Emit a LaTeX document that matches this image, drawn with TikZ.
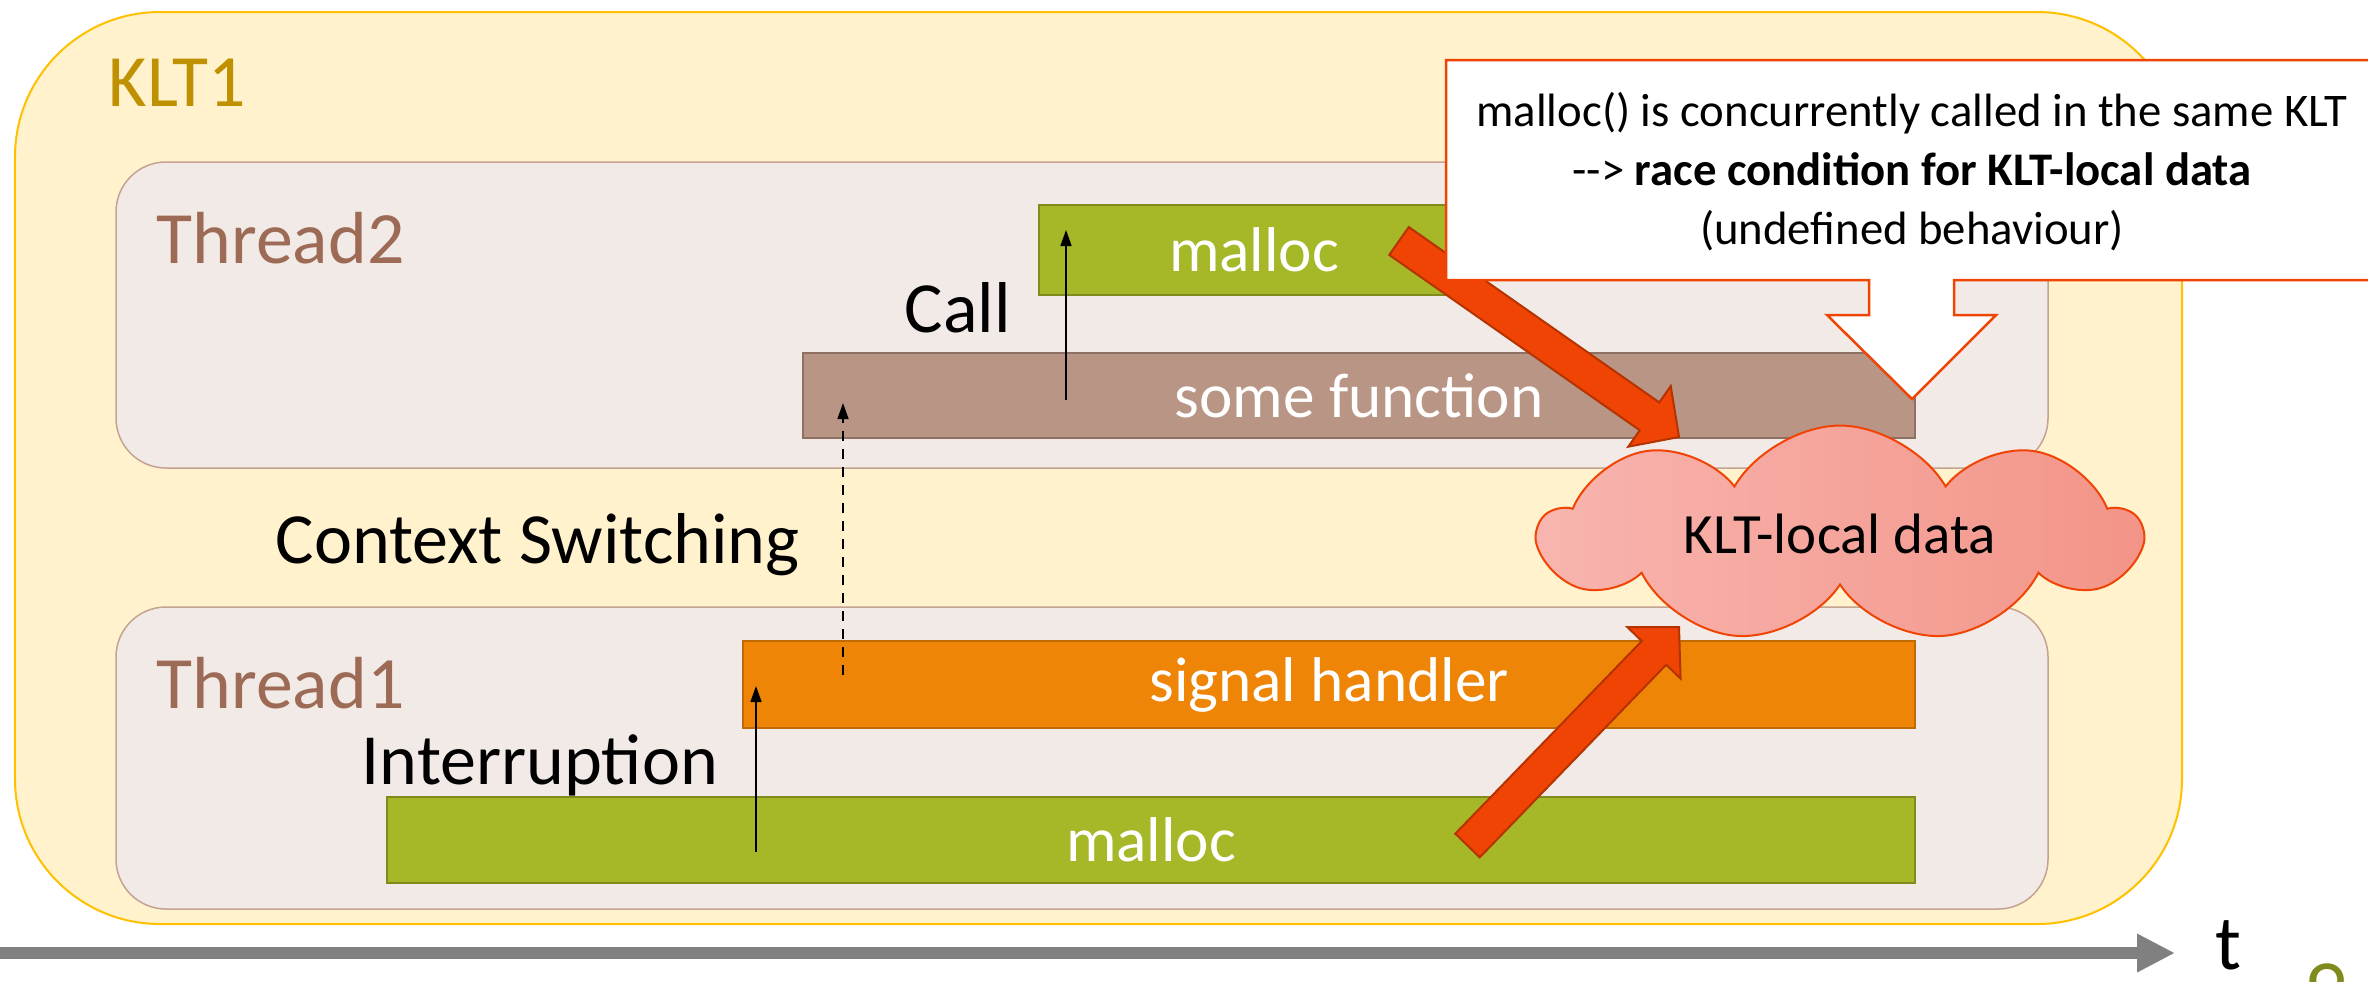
\documentclass[tikz,border=0pt]{standalone}
\usepackage{fontspec}
\setmainfont{Carlito}
\usetikzlibrary{arrows.meta,calc,positioning,shapes.symbols}

\definecolor{kltfill}{HTML}{FFF2CC}
\definecolor{kltline}{HTML}{FFC000}
\definecolor{klttext}{HTML}{BF9000}
\definecolor{thrfill}{HTML}{F2EAE6}
\definecolor{thrline}{HTML}{C4A393}
\definecolor{thrtext}{HTML}{9C6A55}
\definecolor{mallocfill}{HTML}{A6B727}
\definecolor{mallocline}{HTML}{7F8C1D}
\definecolor{funcfill}{HTML}{B99585}
\definecolor{funcline}{HTML}{8E7064}
\definecolor{sigfill}{HTML}{EE8506}
\definecolor{sigline}{HTML}{BF6A05}
\definecolor{racered}{HTML}{F04405}
\definecolor{raceline}{HTML}{B53300}
\definecolor{cloudleft}{HTML}{F8B5AF}
\definecolor{cloudright}{HTML}{F39488}
\definecolor{timegray}{HTML}{808080}

% block arrow from #1 (tail centre) to #2 (tip)
\newcommand{\racearrow}[2]{%
  \coordinate (#2-base) at ($(#2)!0.36cm!(#1)$);
  \filldraw[racearr] ($(#1)!0.17cm!90:(#2)$)
    -- ($(#2-base)!0.17cm!-90:(#1)$) -- ($(#2-base)!0.37cm!-90:(#1)$)
    -- (#2)
    -- ($(#2-base)!0.37cm!90:(#1)$) -- ($(#2-base)!0.17cm!90:(#1)$)
    -- ($(#1)!0.17cm!-90:(#2)$) -- cycle;}

\begin{document}
\begin{tikzpicture}[
    x=1cm, y=-1cm,
    txtlabel/.style={font=\fontsize{20.5}{24}\selectfont, anchor=base west, inner sep=0},
    thrlabel/.style={font=\fontsize{21}{25}\selectfont, text=thrtext, anchor=base west, inner sep=0},
    frame/.style={fill=thrfill, draw=thrline, line width=0.15mm, rounded corners=0.5cm},
    bar/.style={rectangle, inner sep=0, text=white, line width=0.2mm,
        font=\fontsize{18}{21}\selectfont},
    flow/.style={line width=0.15mm, -{Triangle[length=1.6mm,width=1.1mm]}},
    racearr/.style={fill=racered, draw=raceline, line width=0.2mm, line join=miter},
    blob/.style={cloud, cloud puffs=9, cloud puff arc=120, aspect=3.2,
        minimum width=6.0cm, minimum height=1.9cm, inner sep=0,
        left color=cloudleft, right color=cloudright, draw=racered, line width=0.2mm,
        font=\fontsize{16.2}{19}\selectfont},
    callout/.style={fill=white, draw=racered, line width=0.25mm}
]
    \useasboundingbox (0,0) rectangle (23.68,9.81);

    % KLT frame
    \draw[fill=kltfill, draw=kltline, line width=0.2mm, rounded corners=1.45cm]
        (0.15,0.12) rectangle (21.82,9.24);
    \node[font=\fontsize{21}{25}\selectfont, text=klttext, anchor=base west, inner sep=0]
        (klt) at (1.08,1.06) {KLT1};

    % Threads
    \draw[frame] (1.16,1.62) rectangle (20.48,4.68);
    \draw[frame] (1.16,6.07) rectangle (20.48,9.09);
    \node[thrlabel] (thr2) at (1.56,2.63) {Thread2};
    \node[thrlabel] (thr1) at (1.56,7.08) {Thread1};

    % Thread2 stack
    \node[bar, fill=funcfill, draw=funcline, minimum width=11.12cm, minimum height=0.85cm]
        (fn) at (13.59,3.955) {some function};
    \node[bar, fill=mallocfill, draw=mallocline, minimum width=4.30cm, minimum height=0.90cm]
        (malloc2) at (12.54,2.50) {malloc};

    % Thread1 stack
    \node[bar, fill=sigfill, draw=sigline, minimum width=11.72cm, minimum height=0.87cm]
        (sig) at (13.29,6.845) {signal handler};
    \node[bar, fill=mallocfill, draw=mallocline, minimum width=15.28cm, minimum height=0.86cm]
        (malloc1) at (11.51,8.40) {malloc};

    % Labels
    \node[txtlabel] (call) at (9.04,3.32) {Call};
    \node[txtlabel] (ctx) at (2.75,5.63) {Context Switching};
    \node[txtlabel] (intr) at (3.61,7.84) {Interruption};

    % Small arrows
    \coordinate (callfrom) at (10.66,4.00);
    \coordinate (callto) at (10.66,2.30);
    \coordinate (intrfrom) at (7.56,8.52);
    \coordinate (intrto) at (7.56,6.86);
    \coordinate (swfrom) at (8.43,6.75);
    \coordinate (swto) at (8.43,4.03);
    \draw[flow] (callfrom) -- (callto);
    \draw[flow] (intrfrom) -- (intrto);
    \draw[flow, dash pattern=on 1mm off 0.8mm] (swfrom) -- (swto);

    % KLT-local data
    \node[blob] (data) at (18.40,5.34) {KLT-local data\hspace{0.28cm}};

    % Race arrows
    \coordinate (tail2) at (13.99,2.41);
    \coordinate (tip2) at (16.79,4.37);
    \coordinate (tail1) at (14.675,8.455);
    \coordinate (tip1) at (16.79,6.27);
    \racearrow{tail2}{tip2}
    \racearrow{tail1}{tip1}

    % Callout
    \draw[callout] (14.46,0.60) -- (23.90,0.60) -- (23.90,2.80) -- (19.54,2.80)
        -- (19.54,3.15) -- (19.96,3.15) -- (19.12,3.99) -- (18.27,3.15)
        -- (18.69,3.15) -- (18.69,2.80) -- (14.46,2.80) -- cycle;
    \node[align=center, font=\fontsize{13.3}{16.8}\selectfont, inner sep=0]
        (race) at (19.12,1.72)
        {malloc() is concurrently called in the same KLT\\
         -\kern0pt-\kern0pt> \textbf{race condition for KLT-local data}\\
         (undefined behaviour)};

    % Time axis
    \coordinate (tstart) at (0,9.53);
    \coordinate (tend) at (21.75,9.53);
    \draw[timegray, line width=1.2mm, -{Triangle[length=3.8mm,width=3.6mm]}] (tstart) -- (tend);
    \node[font=\fontsize{22}{26}\selectfont, anchor=base west, inner sep=0]
        (tlabel) at (22.15,9.69) {t};
    \node[font=\fontsize{24}{28}\selectfont, text=mallocline, anchor=north, inner sep=0]
        (page) at (23.26,9.63) {9};
\end{tikzpicture}
\end{document}
